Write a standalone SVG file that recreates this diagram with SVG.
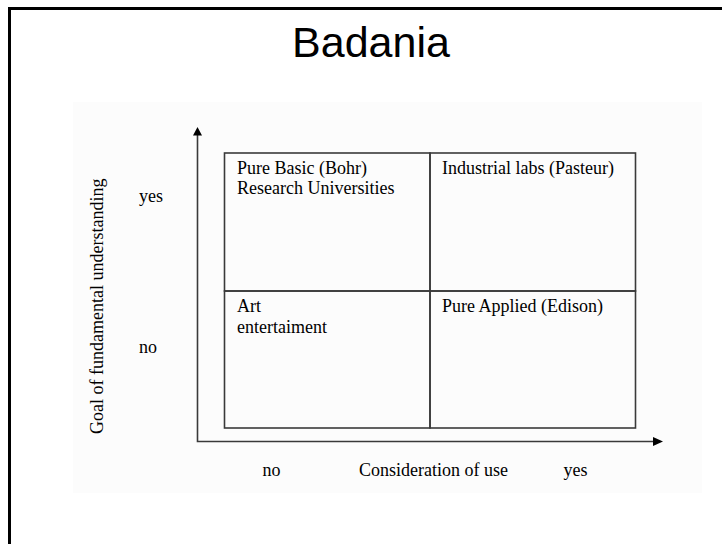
<svg xmlns="http://www.w3.org/2000/svg" width="722" height="544" viewBox="0 0 722 544">
  <defs>
    <style>
      .t { font-family: "Liberation Serif", "Times New Roman", serif; font-size: 18px; fill: #000; }
      .title { font-family: "Liberation Sans", Arial, sans-serif; font-size: 43px; fill: #000; }
      .cell { fill: none; stroke: #3a3a3a; stroke-width: 1.6; }
      .axis { fill: none; stroke: #3a3a3a; stroke-width: 1.6; }
      .head { fill: #000; }
    </style>
  </defs>
  <rect x="0" y="0" width="722" height="544" fill="#ffffff"/>
  <path d="M9.5,546 V8.5 H726" fill="none" stroke="#000" stroke-width="3"/>
  <text class="title" x="371" y="57" text-anchor="middle">Badania</text>
  <rect x="73" y="102" width="629" height="391" fill="#fcfcfc"/>

  <g id="connectors">
    <path class="axis" d="M197.5,134 V441.5 H654"/>
    <polygon class="head" points="197.5,127 193,135.5 202,135.5"/>
    <polygon class="head" points="663,441.5 653,437 653,446"/>
  </g>

  <g id="q-pure-basic">
    <rect class="cell" x="224.5" y="153" width="205.5" height="138"/>
    <text class="t" x="237" y="174">Pure Basic (Bohr)</text>
    <text class="t" x="237" y="194">Research Universities</text>
  </g>
  <g id="q-industrial">
    <rect class="cell" x="430" y="153" width="205.5" height="138"/>
    <text class="t" x="442" y="174">Industrial labs (Pasteur)</text>
  </g>
  <g id="q-art">
    <rect class="cell" x="224.5" y="291" width="205.5" height="137"/>
    <text class="t" x="237" y="312">Art</text>
    <text class="t" x="237" y="333">entertaiment</text>
  </g>
  <g id="q-applied">
    <rect class="cell" x="430" y="291" width="205.5" height="137"/>
    <text class="t" x="442" y="312">Pure Applied (Edison)</text>
  </g>

  <g id="labels">
    <text class="t" transform="translate(102.5,434) rotate(-90)">Goal of fundamental understanding</text>
    <text class="t" x="139" y="202">yes</text>
    <text class="t" x="139" y="353">no</text>
    <text class="t" x="262.5" y="476">no</text>
    <text class="t" x="359" y="476">Consideration of use</text>
    <text class="t" x="563.5" y="476">yes</text>
  </g>
</svg>
